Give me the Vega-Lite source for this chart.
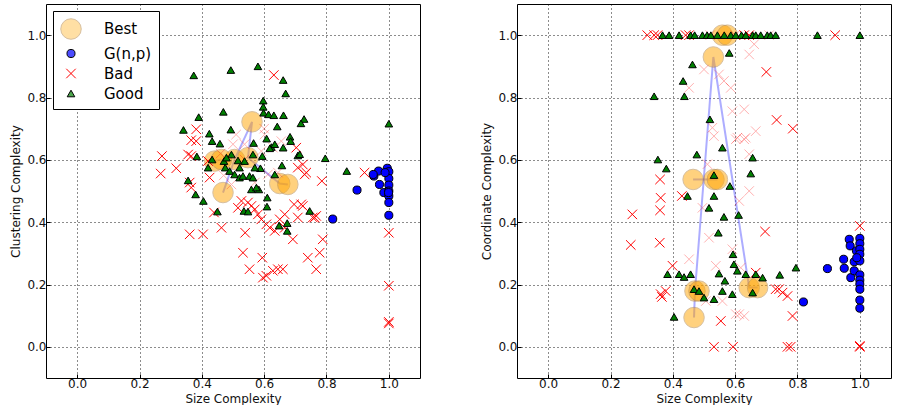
{
  "$schema": "https://vega.github.io/schema/vega-lite/v6.json",
  "background": "white",
  "padding": {"left": 9, "top": 3, "right": 2, "bottom": 0},
  "bounds": "flush",
  "spacing": 97,
  "config": {
    "font": "DejaVu Sans",
    "view": {"stroke": "black", "strokeWidth": 1},
    "axis": {
      "domain": false, "grid": true, "gridColor": "black", "gridDash": [1, 3], "gridOpacity": 0.9, "gridWidth": 1,
      "tickColor": "black", "tickSize": -4, "labelFont": "DejaVu Sans", "labelFontSize": 12, "labelColor": "#111",
      "titleFont": "DejaVu Sans", "titleFontSize": 12, "titleFontWeight": "normal", "titleColor": "#111",
      "labelPadding": 4
    }
  },
  "datasets": {
    "pts": [
      {"p":"L","t":"Best","g":1,"x":0.468,"y":0.495},
      {"p":"L","t":"Best","g":1,"x":0.505,"y":0.601},
      {"p":"L","t":"Best","g":1,"x":0.561,"y":0.722},
      {"p":"L","t":"Best","g":1,"x":0.548,"y":0.607},
      {"p":"L","t":"Best","g":1,"x":0.65,"y":0.524},
      {"p":"L","t":"Best","g":1,"x":0.676,"y":0.521},
      {"p":"L","t":"Best","g":2,"x":0.441,"y":0.596},
      {"p":"L","t":"Best","g":2,"x":0.463,"y":0.601},
      {"p":"R","t":"Best","g":1,"x":0.468,"y":0.094},
      {"p":"R","t":"Best","g":1,"x":0.471,"y":0.179},
      {"p":"R","t":"Best","g":1,"x":0.53,"y":0.93},
      {"p":"R","t":"Best","g":1,"x":0.645,"y":0.19},
      {"p":"R","t":"Best","g":1,"x":0.672,"y":0.19},
      {"p":"R","t":"Best","g":2,"x":0.559,"y":1.0},
      {"p":"R","t":"Best","g":2,"x":0.575,"y":1.0},
      {"p":"R","t":"Best","g":3,"x":0.465,"y":0.537},
      {"p":"R","t":"Best","g":3,"x":0.532,"y":0.537},
      {"p":"R","t":"Best","g":3,"x":0.543,"y":0.537},
      {"p":"R","t":"Best","g":4,"x":0.484,"y":0.179},

      {"p":"L","t":"G(n,p)","x":0.82,"y":0.41},
      {"p":"L","t":"G(n,p)","x":0.898,"y":0.503},
      {"p":"L","t":"G(n,p)","x":0.952,"y":0.548},
      {"p":"L","t":"G(n,p)","x":0.967,"y":0.564},
      {"p":"L","t":"G(n,p)","x":0.97,"y":0.521},
      {"p":"L","t":"G(n,p)","x":0.984,"y":0.495},
      {"p":"L","t":"G(n,p)","x":0.995,"y":0.573},
      {"p":"L","t":"G(n,p)","x":1.0,"y":0.562},
      {"p":"L","t":"G(n,p)","x":1.0,"y":0.54},
      {"p":"L","t":"G(n,p)","x":1.0,"y":0.519},
      {"p":"L","t":"G(n,p)","x":1.0,"y":0.5},
      {"p":"L","t":"G(n,p)","x":1.0,"y":0.484},
      {"p":"L","t":"G(n,p)","x":1.0,"y":0.463},
      {"p":"L","t":"G(n,p)","x":1.0,"y":0.422},
      {"p":"L","t":"G(n,p)","x":0.95,"y":0.553},
      {"p":"L","t":"G(n,p)","x":0.988,"y":0.559},
      {"p":"L","t":"G(n,p)","x":0.999,"y":0.495},
      {"p":"R","t":"G(n,p)","x":0.819,"y":0.144},
      {"p":"R","t":"G(n,p)","x":0.896,"y":0.251},
      {"p":"R","t":"G(n,p)","x":0.948,"y":0.281},
      {"p":"R","t":"G(n,p)","x":0.95,"y":0.252},
      {"p":"R","t":"G(n,p)","x":0.966,"y":0.345},
      {"p":"R","t":"G(n,p)","x":0.969,"y":0.324},
      {"p":"R","t":"G(n,p)","x":0.971,"y":0.222},
      {"p":"R","t":"G(n,p)","x":0.982,"y":0.273},
      {"p":"R","t":"G(n,p)","x":0.982,"y":0.244},
      {"p":"R","t":"G(n,p)","x":0.989,"y":0.308},
      {"p":"R","t":"G(n,p)","x":1.0,"y":0.348},
      {"p":"R","t":"G(n,p)","x":1.0,"y":0.331},
      {"p":"R","t":"G(n,p)","x":1.0,"y":0.313},
      {"p":"R","t":"G(n,p)","x":1.0,"y":0.297},
      {"p":"R","t":"G(n,p)","x":1.0,"y":0.276},
      {"p":"R","t":"G(n,p)","x":1.0,"y":0.231},
      {"p":"R","t":"G(n,p)","x":1.0,"y":0.214},
      {"p":"R","t":"G(n,p)","x":1.0,"y":0.201},
      {"p":"R","t":"G(n,p)","x":1.0,"y":0.185},
      {"p":"R","t":"G(n,p)","x":1.0,"y":0.15},
      {"p":"R","t":"G(n,p)","x":1.0,"y":0.124},
      {"p":"R","t":"G(n,p)","x":0.99,"y":0.286},

      {"p":"L","t":"Bad2","x":0.5,"y":0.65},
      {"p":"L","t":"Bad2","x":0.537,"y":0.601},
      {"p":"L","t":"Bad2","x":0.591,"y":0.628},
      {"p":"L","t":"Bad2","x":0.628,"y":0.639},
      {"p":"L","t":"Bad2","x":0.57,"y":0.527},
      {"p":"L","t":"Bad2","x":0.612,"y":0.553},
      {"p":"L","t":"Bad2","x":0.644,"y":0.559},
      {"p":"L","t":"Bad2","x":0.495,"y":0.521},
      {"p":"L","t":"Bad2","x":0.51,"y":0.681},
      {"p":"L","t":"Bad2","x":0.601,"y":0.681},
      {"p":"L","t":"Bad2","x":0.655,"y":0.66},
      {"p":"L","t":"Bad2","x":0.537,"y":0.65},
      {"p":"L","t":"Bad2","x":0.47,"y":0.55},
      {"p":"L","t":"Bad2","x":0.6,"y":0.7},
      {"p":"L","t":"Bad2","x":0.46,"y":0.62},
      {"p":"R","t":"Bad2","x":0.661,"y":0.971},
      {"p":"R","t":"Bad2","x":0.645,"y":0.938},
      {"p":"R","t":"Bad2","x":0.5,"y":0.89},
      {"p":"R","t":"Bad2","x":0.548,"y":0.874},
      {"p":"R","t":"Bad2","x":0.586,"y":0.831},
      {"p":"R","t":"Bad2","x":0.452,"y":0.831},
      {"p":"R","t":"Bad2","x":0.564,"y":0.853},
      {"p":"R","t":"Bad2","x":0.591,"y":0.756},
      {"p":"R","t":"Bad2","x":0.629,"y":0.762},
      {"p":"R","t":"Bad2","x":0.527,"y":0.703},
      {"p":"R","t":"Bad2","x":0.532,"y":0.676},
      {"p":"R","t":"Bad2","x":0.602,"y":0.666},
      {"p":"R","t":"Bad2","x":0.629,"y":0.666},
      {"p":"R","t":"Bad2","x":0.666,"y":0.692},
      {"p":"R","t":"Bad2","x":0.511,"y":0.586},
      {"p":"R","t":"Bad2","x":0.495,"y":0.446},
      {"p":"R","t":"Bad2","x":0.613,"y":0.468},
      {"p":"R","t":"Bad2","x":0.645,"y":0.5},
      {"p":"R","t":"Bad2","x":0.645,"y":0.618},
      {"p":"R","t":"Bad2","x":0.607,"y":0.671},
      {"p":"R","t":"Bad2","x":0.634,"y":0.671},
      {"p":"R","t":"Bad2","x":0.452,"y":0.281},
      {"p":"R","t":"Bad2","x":0.591,"y":0.313},
      {"p":"R","t":"Bad2","x":0.538,"y":0.26},
      {"p":"R","t":"Bad2","x":0.618,"y":0.254},
      {"p":"R","t":"Bad2","x":0.516,"y":0.35},
      {"p":"R","t":"Bad2","x":0.613,"y":0.105},
      {"p":"R","t":"Bad2","x":0.602,"y":0.105},
      {"p":"R","t":"Bad2","x":0.629,"y":0.099},
      {"p":"R","t":"Bad2","x":0.506,"y":0.147},
      {"p":"R","t":"Bad2","x":0.559,"y":0.147},
      {"p":"R","t":"Bad2","x":0.709,"y":1.0},
      {"p":"R","t":"Bad2","x":0.6,"y":1.0},
      {"p":"R","t":"Bad2","x":0.52,"y":1.0},

      {"p":"L","t":"Bad","x":0.631,"y":0.872},
      {"p":"L","t":"Bad","x":0.382,"y":0.698},
      {"p":"L","t":"Bad","x":0.366,"y":0.663},
      {"p":"L","t":"Bad","x":0.382,"y":0.66},
      {"p":"L","t":"Bad","x":0.272,"y":0.612},
      {"p":"L","t":"Bad","x":0.366,"y":0.612},
      {"p":"L","t":"Bad","x":0.356,"y":0.617},
      {"p":"L","t":"Bad","x":0.318,"y":0.573},
      {"p":"L","t":"Bad","x":0.268,"y":0.556},
      {"p":"L","t":"Bad","x":0.361,"y":0.527},
      {"p":"L","t":"Bad","x":0.366,"y":0.511},
      {"p":"L","t":"Bad","x":0.425,"y":0.543},
      {"p":"L","t":"Bad","x":0.439,"y":0.431},
      {"p":"L","t":"Bad","x":0.361,"y":0.361},
      {"p":"L","t":"Bad","x":0.404,"y":0.361},
      {"p":"L","t":"Bad","x":0.463,"y":0.382},
      {"p":"L","t":"Bad","x":0.539,"y":0.366},
      {"p":"L","t":"Bad","x":0.527,"y":0.468},
      {"p":"L","t":"Bad","x":0.548,"y":0.463},
      {"p":"L","t":"Bad","x":0.559,"y":0.452},
      {"p":"L","t":"Bad","x":0.57,"y":0.441},
      {"p":"L","t":"Bad","x":0.58,"y":0.425},
      {"p":"L","t":"Bad","x":0.591,"y":0.409},
      {"p":"L","t":"Bad","x":0.607,"y":0.393},
      {"p":"L","t":"Bad","x":0.618,"y":0.382},
      {"p":"L","t":"Bad","x":0.634,"y":0.372},
      {"p":"L","t":"Bad","x":0.65,"y":0.409},
      {"p":"L","t":"Bad","x":0.666,"y":0.425},
      {"p":"L","t":"Bad","x":0.696,"y":0.457},
      {"p":"L","t":"Bad","x":0.708,"y":0.415},
      {"p":"L","t":"Bad","x":0.724,"y":0.452},
      {"p":"L","t":"Bad","x":0.692,"y":0.345},
      {"p":"L","t":"Bad","x":0.762,"y":0.415},
      {"p":"L","t":"Bad","x":0.785,"y":0.532},
      {"p":"L","t":"Bad","x":0.708,"y":0.575},
      {"p":"L","t":"Bad","x":0.724,"y":0.585},
      {"p":"L","t":"Bad","x":0.73,"y":0.553},
      {"p":"L","t":"Bad","x":0.703,"y":0.639},
      {"p":"L","t":"Bad","x":0.532,"y":0.302},
      {"p":"L","t":"Bad","x":0.594,"y":0.286},
      {"p":"L","t":"Bad","x":0.553,"y":0.249},
      {"p":"L","t":"Bad","x":0.607,"y":0.228},
      {"p":"L","t":"Bad","x":0.596,"y":0.222},
      {"p":"L","t":"Bad","x":0.644,"y":0.249},
      {"p":"L","t":"Bad","x":0.66,"y":0.249},
      {"p":"L","t":"Bad","x":0.628,"y":0.244},
      {"p":"L","t":"Bad","x":0.74,"y":0.286},
      {"p":"L","t":"Bad","x":0.778,"y":0.302},
      {"p":"L","t":"Bad","x":0.767,"y":0.249},
      {"p":"L","t":"Bad","x":0.788,"y":0.345},
      {"p":"L","t":"Bad","x":0.42,"y":0.596},
      {"p":"L","t":"Bad","x":0.516,"y":0.446},
      {"p":"L","t":"Bad","x":0.666,"y":0.382},
      {"p":"L","t":"Bad","x":0.735,"y":0.559},
      {"p":"L","t":"Bad","x":0.922,"y":0.559},
      {"p":"L","t":"Bad","x":0.719,"y":0.457},
      {"p":"L","t":"Bad","x":0.756,"y":0.415},
      {"p":"L","t":"Bad","x":0.767,"y":0.42},
      {"p":"L","t":"Bad","x":1.0,"y":0.366},
      {"p":"L","t":"Bad","x":1.0,"y":0.196},
      {"p":"L","t":"Bad","x":1.0,"y":0.075},
      {"p":"L","t":"Bad","x":1.0,"y":0.08},
      {"p":"R","t":"Bad","x":0.318,"y":1.0},
      {"p":"R","t":"Bad","x":0.34,"y":1.0},
      {"p":"R","t":"Bad","x":0.351,"y":1.0},
      {"p":"R","t":"Bad","x":0.441,"y":1.0},
      {"p":"R","t":"Bad","x":0.452,"y":1.0},
      {"p":"R","t":"Bad","x":0.629,"y":1.0},
      {"p":"R","t":"Bad","x":0.645,"y":1.0},
      {"p":"R","t":"Bad","x":0.921,"y":1.0},
      {"p":"R","t":"Bad","x":0.359,"y":0.537},
      {"p":"R","t":"Bad","x":0.361,"y":0.478},
      {"p":"R","t":"Bad","x":0.359,"y":0.438},
      {"p":"R","t":"Bad","x":0.27,"y":0.425},
      {"p":"R","t":"Bad","x":0.429,"y":0.484},
      {"p":"R","t":"Bad","x":0.265,"y":0.327},
      {"p":"R","t":"Bad","x":0.358,"y":0.334},
      {"p":"R","t":"Bad","x":0.399,"y":0.26},
      {"p":"R","t":"Bad","x":0.361,"y":0.169},
      {"p":"R","t":"Bad","x":0.377,"y":0.179},
      {"p":"R","t":"Bad","x":0.365,"y":0.16},
      {"p":"R","t":"Bad","x":0.7,"y":0.882},
      {"p":"R","t":"Bad","x":0.733,"y":0.728},
      {"p":"R","t":"Bad","x":0.785,"y":0.7},
      {"p":"R","t":"Bad","x":0.696,"y":0.37},
      {"p":"R","t":"Bad","x":0.73,"y":0.185},
      {"p":"R","t":"Bad","x":0.752,"y":0.174},
      {"p":"R","t":"Bad","x":0.768,"y":0.163},
      {"p":"R","t":"Bad","x":0.784,"y":0.099},
      {"p":"R","t":"Bad","x":0.554,"y":0.083},
      {"p":"R","t":"Bad","x":0.532,"y":0.0},
      {"p":"R","t":"Bad","x":0.593,"y":0.0},
      {"p":"R","t":"Bad","x":0.768,"y":0.0},
      {"p":"R","t":"Bad","x":0.778,"y":0.0},
      {"p":"R","t":"Bad","x":1.0,"y":0.0},
      {"p":"R","t":"Bad","x":1.0,"y":0.003},
      {"p":"R","t":"Bad","x":1.0,"y":0.388},
      {"p":"R","t":"Bad","x":0.666,"y":0.238},
      {"p":"R","t":"Bad","x":0.741,"y":0.185},

      {"p":"L","t":"Good","x":0.374,"y":0.871},
      {"p":"L","t":"Good","x":0.493,"y":0.888},
      {"p":"L","t":"Good","x":0.58,"y":0.9},
      {"p":"L","t":"Good","x":0.661,"y":0.856},
      {"p":"L","t":"Good","x":0.669,"y":0.813},
      {"p":"L","t":"Good","x":0.597,"y":0.79},
      {"p":"L","t":"Good","x":0.597,"y":0.77},
      {"p":"L","t":"Good","x":0.598,"y":0.751},
      {"p":"L","t":"Good","x":0.614,"y":0.746},
      {"p":"L","t":"Good","x":0.631,"y":0.743},
      {"p":"L","t":"Good","x":0.662,"y":0.743},
      {"p":"L","t":"Good","x":0.469,"y":0.754},
      {"p":"L","t":"Good","x":0.39,"y":0.737},
      {"p":"L","t":"Good","x":0.341,"y":0.696},
      {"p":"L","t":"Good","x":0.728,"y":0.731},
      {"p":"L","t":"Good","x":0.718,"y":0.717},
      {"p":"L","t":"Good","x":0.642,"y":0.707},
      {"p":"L","t":"Good","x":0.493,"y":0.697},
      {"p":"L","t":"Good","x":0.424,"y":0.684},
      {"p":"L","t":"Good","x":0.433,"y":0.66},
      {"p":"L","t":"Good","x":0.458,"y":0.652},
      {"p":"L","t":"Good","x":0.384,"y":0.611},
      {"p":"L","t":"Good","x":0.683,"y":0.674},
      {"p":"L","t":"Good","x":0.685,"y":0.66},
      {"p":"L","t":"Good","x":0.661,"y":0.639},
      {"p":"L","t":"Good","x":0.623,"y":0.641},
      {"p":"L","t":"Good","x":0.566,"y":0.654},
      {"p":"L","t":"Good","x":0.608,"y":0.668},
      {"p":"L","t":"Good","x":0.708,"y":0.614},
      {"p":"L","t":"Good","x":0.796,"y":0.605},
      {"p":"L","t":"Good","x":0.42,"y":0.575},
      {"p":"L","t":"Good","x":0.356,"y":0.534},
      {"p":"L","t":"Good","x":0.38,"y":0.489},
      {"p":"L","t":"Good","x":0.405,"y":0.468},
      {"p":"L","t":"Good","x":0.45,"y":0.434},
      {"p":"L","t":"Good","x":0.535,"y":0.436},
      {"p":"L","t":"Good","x":0.548,"y":0.434},
      {"p":"L","t":"Good","x":0.609,"y":0.45},
      {"p":"L","t":"Good","x":0.61,"y":0.479},
      {"p":"L","t":"Good","x":0.746,"y":0.436},
      {"p":"L","t":"Good","x":0.648,"y":0.389},
      {"p":"L","t":"Good","x":0.674,"y":0.397},
      {"p":"L","t":"Good","x":0.674,"y":0.372},
      {"p":"L","t":"Good","x":0.433,"y":0.601},
      {"p":"L","t":"Good","x":0.471,"y":0.596},
      {"p":"L","t":"Good","x":0.475,"y":0.575},
      {"p":"L","t":"Good","x":0.489,"y":0.564},
      {"p":"L","t":"Good","x":0.505,"y":0.553},
      {"p":"L","t":"Good","x":0.521,"y":0.543},
      {"p":"L","t":"Good","x":0.532,"y":0.548},
      {"p":"L","t":"Good","x":0.553,"y":0.548},
      {"p":"L","t":"Good","x":0.564,"y":0.543},
      {"p":"L","t":"Good","x":0.583,"y":0.505},
      {"p":"L","t":"Good","x":0.559,"y":0.505},
      {"p":"L","t":"Good","x":0.575,"y":0.511},
      {"p":"L","t":"Good","x":0.588,"y":0.573},
      {"p":"L","t":"Good","x":0.594,"y":0.612},
      {"p":"L","t":"Good","x":0.618,"y":0.637},
      {"p":"L","t":"Good","x":0.634,"y":0.65},
      {"p":"L","t":"Good","x":0.657,"y":0.582},
      {"p":"L","t":"Good","x":0.634,"y":0.553},
      {"p":"L","t":"Good","x":0.521,"y":0.575},
      {"p":"L","t":"Good","x":0.516,"y":0.598},
      {"p":"L","t":"Good","x":0.495,"y":0.617},
      {"p":"L","t":"Good","x":0.479,"y":0.607},
      {"p":"L","t":"Good","x":0.537,"y":0.596},
      {"p":"L","t":"Good","x":0.564,"y":0.617},
      {"p":"L","t":"Good","x":0.57,"y":0.575},
      {"p":"L","t":"Good","x":0.714,"y":0.618},
      {"p":"L","t":"Good","x":0.865,"y":0.564},
      {"p":"L","t":"Good","x":1.0,"y":0.716},
      {"p":"R","t":"Good","x":0.367,"y":1.0},
      {"p":"R","t":"Good","x":0.388,"y":1.0},
      {"p":"R","t":"Good","x":0.42,"y":1.0},
      {"p":"R","t":"Good","x":0.457,"y":1.0},
      {"p":"R","t":"Good","x":0.47,"y":1.0},
      {"p":"R","t":"Good","x":0.495,"y":1.0},
      {"p":"R","t":"Good","x":0.51,"y":1.0},
      {"p":"R","t":"Good","x":0.522,"y":1.0},
      {"p":"R","t":"Good","x":0.543,"y":1.0},
      {"p":"R","t":"Good","x":0.565,"y":1.0},
      {"p":"R","t":"Good","x":0.586,"y":1.0},
      {"p":"R","t":"Good","x":0.602,"y":1.0},
      {"p":"R","t":"Good","x":0.62,"y":1.0},
      {"p":"R","t":"Good","x":0.634,"y":1.0},
      {"p":"R","t":"Good","x":0.656,"y":1.0},
      {"p":"R","t":"Good","x":0.666,"y":1.0},
      {"p":"R","t":"Good","x":0.682,"y":1.0},
      {"p":"R","t":"Good","x":0.703,"y":1.0},
      {"p":"R","t":"Good","x":0.714,"y":1.0},
      {"p":"R","t":"Good","x":0.73,"y":1.0},
      {"p":"R","t":"Good","x":0.864,"y":1.0},
      {"p":"R","t":"Good","x":1.0,"y":1.0},
      {"p":"R","t":"Good","x":0.581,"y":0.943},
      {"p":"R","t":"Good","x":0.463,"y":0.906},
      {"p":"R","t":"Good","x":0.433,"y":0.853},
      {"p":"R","t":"Good","x":0.34,"y":0.804},
      {"p":"R","t":"Good","x":0.437,"y":0.804},
      {"p":"R","t":"Good","x":0.519,"y":0.73},
      {"p":"R","t":"Good","x":0.559,"y":0.639},
      {"p":"R","t":"Good","x":0.656,"y":0.607},
      {"p":"R","t":"Good","x":0.352,"y":0.601},
      {"p":"R","t":"Good","x":0.379,"y":0.572},
      {"p":"R","t":"Good","x":0.477,"y":0.617},
      {"p":"R","t":"Good","x":0.65,"y":0.556},
      {"p":"R","t":"Good","x":0.583,"y":0.516},
      {"p":"R","t":"Good","x":0.532,"y":0.551},
      {"p":"R","t":"Good","x":0.447,"y":0.484},
      {"p":"R","t":"Good","x":0.532,"y":0.484},
      {"p":"R","t":"Good","x":0.516,"y":0.446},
      {"p":"R","t":"Good","x":0.564,"y":0.417},
      {"p":"R","t":"Good","x":0.611,"y":0.423},
      {"p":"R","t":"Good","x":0.546,"y":0.366},
      {"p":"R","t":"Good","x":0.593,"y":0.297},
      {"p":"R","t":"Good","x":0.596,"y":0.265},
      {"p":"R","t":"Good","x":0.607,"y":0.244},
      {"p":"R","t":"Good","x":0.567,"y":0.212},
      {"p":"R","t":"Good","x":0.591,"y":0.169},
      {"p":"R","t":"Good","x":0.548,"y":0.235},
      {"p":"R","t":"Good","x":0.634,"y":0.233},
      {"p":"R","t":"Good","x":0.666,"y":0.233},
      {"p":"R","t":"Good","x":0.688,"y":0.222},
      {"p":"R","t":"Good","x":0.656,"y":0.174},
      {"p":"R","t":"Good","x":0.743,"y":0.231},
      {"p":"R","t":"Good","x":0.383,"y":0.233},
      {"p":"R","t":"Good","x":0.42,"y":0.233},
      {"p":"R","t":"Good","x":0.436,"y":0.224},
      {"p":"R","t":"Good","x":0.457,"y":0.233},
      {"p":"R","t":"Good","x":0.468,"y":0.185},
      {"p":"R","t":"Good","x":0.484,"y":0.179},
      {"p":"R","t":"Good","x":0.532,"y":0.153},
      {"p":"R","t":"Good","x":0.559,"y":0.179},
      {"p":"R","t":"Good","x":0.404,"y":0.096},
      {"p":"R","t":"Good","x":0.795,"y":0.254},
      {"p":"R","t":"Good","x":0.5,"y":0.158}
    ]
  },
  "resolve": {
    "scale": {"x": "independent", "y": "independent", "fill": "independent", "stroke": "independent", "shape": "independent", "size": "independent", "opacity": "independent"},
    "legend": {"fill": "independent", "stroke": "independent", "shape": "independent", "size": "independent", "opacity": "independent"}
  },
  "hconcat": [
    {
      "width": 374, "height": 374,
      "data": {"name": "pts"},
      "transform": [{"filter": "datum.p == 'L'"}],
      "layer": [
        {
          "transform": [{"filter": "datum.t == 'Best'"}],
          "mark": {"type": "line", "color": "#4a4aff", "opacity": 0.45, "strokeWidth": 2},
          "encoding": {
            "x": {"field": "x", "type": "quantitative", "scale": {"domain": [-0.1, 1.1], "nice": false, "zero": false}, "axis": {"values": [0, 0.2, 0.4, 0.6, 0.8, 1.0], "format": ".1f"}, "title": "Size Complexity"},
            "y": {"field": "y", "type": "quantitative", "scale": {"domain": [-0.1, 1.1], "nice": false, "zero": false}, "axis": {"values": [0, 0.2, 0.4, 0.6, 0.8, 1.0], "format": ".1f"}, "title": "Clustering Complexity"},
            "detail": {"field": "g"},
            "order": {"value": null}
          }
        },
        {
          "mark": {"type": "point", "filled": true, "strokeWidth": 1},
          "encoding": {
            "x": {"field": "x", "type": "quantitative", "scale": {"domain": [-0.1, 1.1], "nice": false, "zero": false}, "axis": {"values": [0, 0.2, 0.4, 0.6, 0.8, 1.0], "format": ".1f"}, "title": "Size Complexity"},
            "y": {"field": "y", "type": "quantitative", "scale": {"domain": [-0.1, 1.1], "nice": false, "zero": false}, "axis": {"values": [0, 0.2, 0.4, 0.6, 0.8, 1.0], "format": ".1f"}, "title": "Clustering Complexity"},
            "fill": {"field": "t", "type": "nominal", "scale": {"type": "ordinal", "domain": ["Best", "G(n,p)", "Bad", "Good", "Bad2"], "range": ["#ffa500", "#0000ff", "transparent", "#008000", "transparent"]},
              "legend": {"values": ["Best", "G(n,p)", "Bad", "Good"], "title": null, "orient": "top-left", "offset": 7, "strokeColor": "black", "fillColor": "white", "padding": 7, "cornerRadius": 0, "labelFontSize": 15, "labelFont": "DejaVu Sans", "labelColor": "black", "rowPadding": 4, "labelOffset": 22, "symbolStrokeWidth": 1}},
            "stroke": {"field": "t", "type": "nominal", "scale": {"type": "ordinal", "domain": ["Best", "G(n,p)", "Bad", "Good", "Bad2"], "range": ["#b08040", "#000000", "#ff0000", "#000000", "#ff0000"]},
              "legend": {"values": ["Best", "G(n,p)", "Bad", "Good"], "title": null, "orient": "top-left", "offset": 7, "strokeColor": "black", "fillColor": "white", "padding": 7, "cornerRadius": 0, "labelFontSize": 15, "labelFont": "DejaVu Sans", "labelColor": "black", "rowPadding": 4, "labelOffset": 22, "symbolStrokeWidth": 1}},
            "shape": {"field": "t", "type": "nominal", "scale": {"type": "ordinal", "domain": ["Best", "G(n,p)", "Bad", "Good", "Bad2"], "range": ["circle", "circle", "M-1,-1L1,1M-1,1L1,-1", "triangle-up", "M-1,-1L1,1M-1,1L1,-1"]},
              "legend": {"values": ["Best", "G(n,p)", "Bad", "Good"], "title": null, "orient": "top-left", "offset": 7, "strokeColor": "black", "fillColor": "white", "padding": 7, "cornerRadius": 0, "labelFontSize": 15, "labelFont": "DejaVu Sans", "labelColor": "black", "rowPadding": 4, "labelOffset": 22, "symbolStrokeWidth": 1}},
            "size": {"field": "t", "type": "nominal", "scale": {"type": "ordinal", "domain": ["Best", "G(n,p)", "Bad", "Good", "Bad2"], "range": [420, 65, 90, 58, 90]},
              "legend": {"values": ["Best", "G(n,p)", "Bad", "Good"], "title": null, "orient": "top-left", "offset": 7, "strokeColor": "black", "fillColor": "white", "padding": 7, "cornerRadius": 0, "labelFontSize": 15, "labelFont": "DejaVu Sans", "labelColor": "black", "rowPadding": 4, "labelOffset": 22, "symbolStrokeWidth": 1}},
            "opacity": {"field": "t", "type": "nominal", "scale": {"type": "ordinal", "domain": ["Best", "G(n,p)", "Bad", "Good", "Bad2"], "range": [0.5, 1, 1, 1, 0.3]},
              "legend": {"values": ["Best", "G(n,p)", "Bad", "Good"], "title": null, "orient": "top-left", "offset": 7, "strokeColor": "black", "fillColor": "white", "padding": 7, "cornerRadius": 0, "labelFontSize": 15, "labelFont": "DejaVu Sans", "labelColor": "black", "rowPadding": 4, "labelOffset": 22, "symbolStrokeWidth": 1}},
            "order": {"value": null}
          }
        }
      ]
    },
    {
      "width": 374, "height": 374,
      "data": {"name": "pts"},
      "transform": [{"filter": "datum.p == 'R'"}],
      "layer": [
        {
          "transform": [{"filter": "datum.t == 'Best'"}],
          "mark": {"type": "line", "color": "#4a4aff", "opacity": 0.45, "strokeWidth": 2},
          "encoding": {
            "x": {"field": "x", "type": "quantitative", "scale": {"domain": [-0.1, 1.1], "nice": false, "zero": false}, "axis": {"values": [0, 0.2, 0.4, 0.6, 0.8, 1.0], "format": ".1f"}, "title": "Size Complexity"},
            "y": {"field": "y", "type": "quantitative", "scale": {"domain": [-0.1, 1.1], "nice": false, "zero": false}, "axis": {"values": [0, 0.2, 0.4, 0.6, 0.8, 1.0], "format": ".1f"}, "title": "Coordinate Complexity"},
            "detail": {"field": "g"},
            "order": {"value": null}
          }
        },
        {
          "mark": {"type": "point", "filled": true, "strokeWidth": 1},
          "encoding": {
            "x": {"field": "x", "type": "quantitative", "scale": {"domain": [-0.1, 1.1], "nice": false, "zero": false}, "axis": {"values": [0, 0.2, 0.4, 0.6, 0.8, 1.0], "format": ".1f"}, "title": "Size Complexity"},
            "y": {"field": "y", "type": "quantitative", "scale": {"domain": [-0.1, 1.1], "nice": false, "zero": false}, "axis": {"values": [0, 0.2, 0.4, 0.6, 0.8, 1.0], "format": ".1f"}, "title": "Coordinate Complexity"},
            "fill": {"field": "t", "type": "nominal", "legend": null, "scale": {"type": "ordinal", "domain": ["Best", "G(n,p)", "Bad", "Good", "Bad2"], "range": ["#ffa500", "#0000ff", "transparent", "#008000", "transparent"]}},
            "stroke": {"field": "t", "type": "nominal", "legend": null, "scale": {"type": "ordinal", "domain": ["Best", "G(n,p)", "Bad", "Good", "Bad2"], "range": ["#b08040", "#000000", "#ff0000", "#000000", "#ff0000"]}},
            "shape": {"field": "t", "type": "nominal", "legend": null, "scale": {"type": "ordinal", "domain": ["Best", "G(n,p)", "Bad", "Good", "Bad2"], "range": ["circle", "circle", "M-1,-1L1,1M-1,1L1,-1", "triangle-up", "M-1,-1L1,1M-1,1L1,-1"]}},
            "size": {"field": "t", "type": "nominal", "legend": null, "scale": {"type": "ordinal", "domain": ["Best", "G(n,p)", "Bad", "Good", "Bad2"], "range": [420, 65, 90, 58, 90]}},
            "opacity": {"field": "t", "type": "nominal", "legend": null, "scale": {"type": "ordinal", "domain": ["Best", "G(n,p)", "Bad", "Good", "Bad2"], "range": [0.5, 1, 1, 1, 0.3]}},
            "order": {"value": null}
          }
        }
      ]
    }
  ]
}
